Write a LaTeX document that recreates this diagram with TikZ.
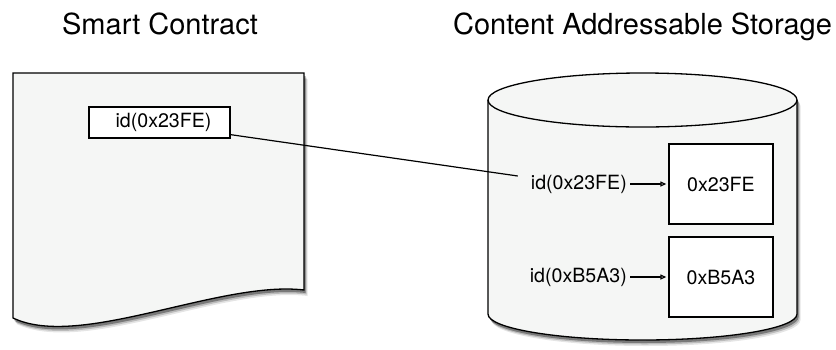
\documentclass[tikz,border=0pt]{standalone}
\usepackage{fontspec}
\setmainfont{TeX Gyre Heros}
\usetikzlibrary{arrows.meta,calc}
\definecolor{paper}{RGB}{245,246,245}
\begin{document}
\begin{tikzpicture}[x=1pt,y=-1pt,
  outline/.style={draw=black,line width=1.3pt,fill=paper},
  title/.style={font=\fontsize{29}{34}\selectfont,anchor=base,inner sep=0},
  cell/.style={draw=black,fill=white,line width=1.3pt,inner sep=0,font=\fontsize{19.6}{24}\selectfont},
  idtext/.style={inner sep=0,font=\fontsize{19.6}{24}\selectfont},
  link/.style={line width=1.2pt},
  ptr/.style={line width=1.2pt,shorten <=3pt,shorten >=2pt,-{Triangle[open,length=6pt,width=5pt,fill=white]}},
]
\useasboundingbox[fill=white] (0,0) rectangle (836,349);

% soft shadows under the document and the cylinder
\foreach \dx/\dy/\op in {3.5/6/0.10, 2.5/4.5/0.18, 1.5/3/0.35} {
  \begin{scope}[shift={(\dx,\dy)}]
    \fill[black,opacity=\op] (13,73) -- (304,73) -- (304,290)
      .. controls (220,280) and (80,350) .. (13,318) -- cycle;
    \fill[black,opacity=\op] (488,100) -- (488,314)
      .. controls (488,328.4) and (557.2,340) .. (642.5,340)
      .. controls (727.8,340) and (797,328.4) .. (797,314) -- (797,100)
      .. controls (797,85.1) and (727.8,73) .. (642.5,73)
      .. controls (557.2,73) and (488,85.1) .. (488,100) -- cycle;
  \end{scope}
}

% document sheet
\path[outline] (13,73) -- (304,73) -- (304,290)
  .. controls (220,280) and (80,350) .. (13,318) -- cycle;

% storage cylinder
\path[outline] (488,100) -- (488,314)
  .. controls (488,328.4) and (557.2,340) .. (642.5,340)
  .. controls (727.8,340) and (797,328.4) .. (797,314) -- (797,100)
  .. controls (797,85.1) and (727.8,73) .. (642.5,73)
  .. controls (557.2,73) and (488,85.1) .. (488,100) -- cycle;
\draw[line width=1.3pt] (488,100) .. controls (488,114.9) and (557.2,127) .. (642.5,127)
  .. controls (727.8,127) and (797,114.9) .. (797,100);

% titles
\node[title] (t1) at (160,34) {Smart Contract};
\node[title] (t2) at (642.5,34) {Content Addressable Storage};

% reference held by the contract
\node[cell,minimum width=141pt,minimum height=31pt] (idbox) at (159.5,122.5) {\hspace*{8pt}id(0x23FE)};

% stored objects
\node[cell,minimum width=104pt,minimum height=80pt] (obj1) at (721,184) {0x23FE};
\node[cell,minimum width=104pt,minimum height=80pt] (obj2) at (721,277) {0xB5A3};

\node[idtext,anchor=east] (key1) at (627,184) {id(0x23FE)};
\node[idtext,anchor=east] (key2) at (627,277) {id(0xB5A3)};

\draw[ptr] (key1.east) -- (obj1.west);
\draw[ptr] (key2.east) -- (obj2.west);

\coordinate (hook) at ($(key1.west)+(-13,-8)$);
\draw[link] ($(idbox.south east)+(0,-4)$) -- (hook);
\end{tikzpicture}
\end{document}
